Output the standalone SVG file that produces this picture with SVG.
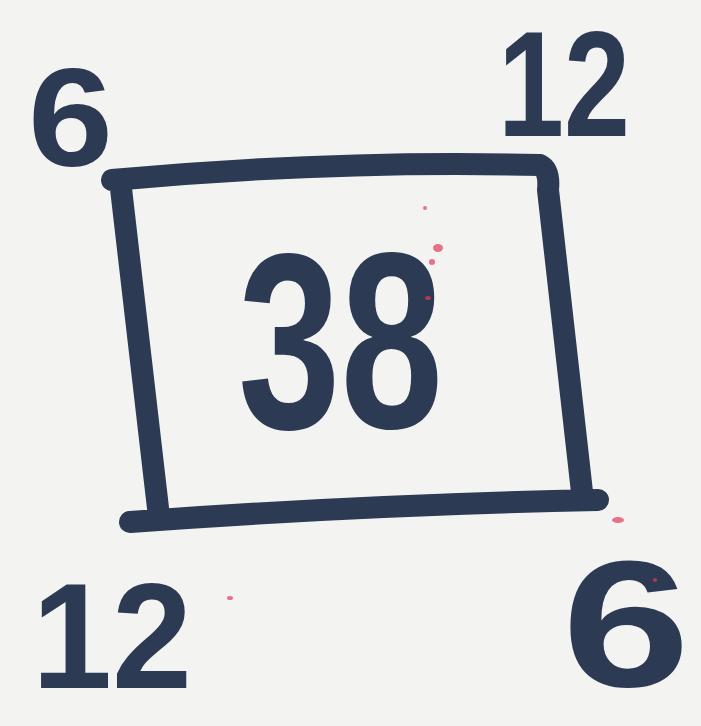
<svg xmlns="http://www.w3.org/2000/svg" width="701" height="726" viewBox="0 0 701 726">
<style>
.ink{fill:#2c3a54;font-family:"Liberation Sans",Arial,sans-serif;font-weight:bold}
.line{fill:none;stroke:#2c3a54;stroke-width:22;stroke-linecap:round;stroke-linejoin:round}
.speck{fill:#e03a5a;opacity:0.7}
</style>
<rect width="701" height="726" fill="#f3f3f1"/>
<g id="square">
<path class="line" d="M112,180 Q330,160 540,165 Q550,170 548,190 L582,492 M120,180 L158,508 M130,522 Q360,505 598,500"/>
</g>
<g id="labels">
<text class="ink" x="28" y="166" font-size="140" textLength="85" lengthAdjust="spacingAndGlyphs">6</text>
<text class="ink" x="498" y="136" font-size="150" textLength="132" lengthAdjust="spacingAndGlyphs">12</text>
<text class="ink" x="238" y="428" font-size="250" textLength="205" lengthAdjust="spacingAndGlyphs">38</text>
<text class="ink" x="32" y="688" font-size="150" textLength="160" lengthAdjust="spacingAndGlyphs">12</text>
<text class="ink" x="562" y="686" font-size="180" textLength="128" lengthAdjust="spacingAndGlyphs">6</text>
</g>
<g id="specks">
<ellipse class="speck" cx="438" cy="248" rx="5" ry="4"/>
<ellipse class="speck" cx="432" cy="262" rx="3" ry="3"/>
<ellipse class="speck" cx="425" cy="208" rx="2" ry="2"/>
<ellipse class="speck" cx="428" cy="298" rx="3" ry="2"/>
<ellipse class="speck" cx="618" cy="520" rx="6" ry="3"/>
<ellipse class="speck" cx="230" cy="598" rx="3" ry="2"/>
<ellipse class="speck" cx="655" cy="580" rx="2" ry="2"/>
</g>
</svg>
